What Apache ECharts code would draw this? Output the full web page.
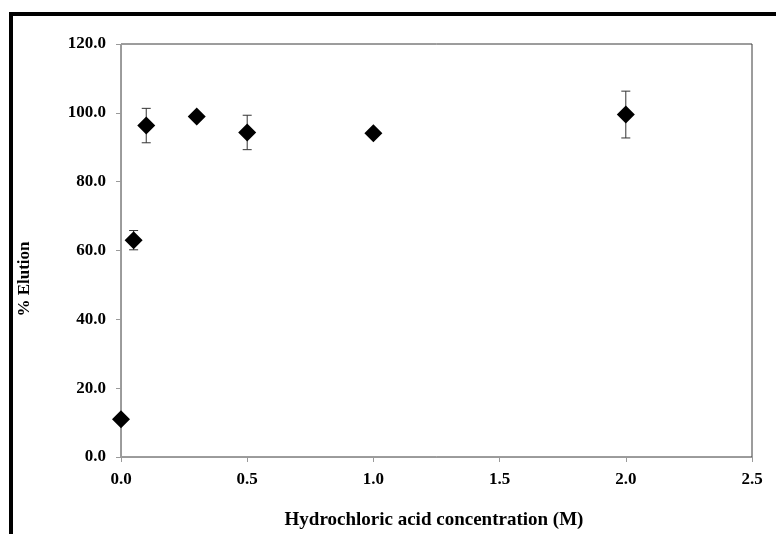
<!DOCTYPE html>
<html>
<head>
<meta charset="utf-8">
<script src="https://cdn.jsdelivr.net/npm/echarts@6/dist/echarts.min.js"></script>
<style>
  html, body { margin: 0; padding: 0; background: #ffffff; }
  #chart { width: 776px; height: 534px; }
</style>
</head>
<body>
<div id="chart"></div>
<script>
// Data
var concentrations = [0.0, 0.05, 0.1, 0.3, 0.5, 1.0, 2.0];   // Hydrochloric acid concentration (M)
var elution        = [11.0, 63.0, 96.3, 98.9, 94.3, 94.1, 99.5]; // % Elution
var errors         = [1.0, 2.8, 5.0, 1.0, 5.0, 1.0, 6.8];      // +/- error
var xTitle = 'Hydrochloric acid concentration (M)';
var yTitle = '% Elution';

var FONT = '"Liberation Serif", "Times New Roman", serif';

var points = concentrations.map(function (x, i) { return [x, elution[i]]; });
var errData = concentrations.map(function (x, i) {
  return [x, elution[i] - errors[i], elution[i] + errors[i]];
});

var chart = echarts.init(document.getElementById('chart'), null, { renderer: 'canvas' });

chart.setOption({
  backgroundColor: '#ffffff',
  animation: false,
  grid: {
    left: 121, top: 44, right: 24, bottom: 77,
    show: true, borderColor: '#3a3a3a', borderWidth: 1, backgroundColor: 'transparent'
  },
  xAxis: {
    type: 'value', min: 0, max: 2.5, interval: 0.5,
    axisLine: { show: true, onZero: false, lineStyle: { color: '#9a9a9a', width: 1 } },
    axisTick: { show: true, length: 5, inside: false, lineStyle: { color: '#9a9a9a' } },
    splitLine: { show: false },
    axisLabel: {
      margin: 14, color: '#000', fontFamily: FONT, fontWeight: 'bold', fontSize: 17,
      formatter: function (v) { return v.toFixed(1); }
    }
  },
  yAxis: {
    type: 'value', min: 0, max: 120, interval: 20,
    axisLine: { show: true, onZero: false, lineStyle: { color: '#9a9a9a', width: 1 } },
    axisTick: { show: true, length: 5, inside: false, lineStyle: { color: '#9a9a9a' } },
    splitLine: { show: false },
    axisLabel: {
      margin: 15, color: '#000', fontFamily: FONT, fontWeight: 'bold', fontSize: 17,
      formatter: function (v) { return v.toFixed(1); }
    }
  },
  series: [
    {
      type: 'custom',
      z: 2,
      data: errData,
      renderItem: function (params, api) {
        var x = api.value(0);
        var lo = api.coord([x, api.value(1)]);
        var hi = api.coord([x, api.value(2)]);
        var hw = 4.5;
        var style = { stroke: '#333333', lineWidth: 1, fill: null };
        return {
          type: 'group',
          children: [
            { type: 'line', shape: { x1: hi[0], y1: hi[1], x2: lo[0], y2: lo[1] }, style: style },
            { type: 'line', shape: { x1: hi[0] - hw, y1: hi[1], x2: hi[0] + hw, y2: hi[1] }, style: style },
            { type: 'line', shape: { x1: lo[0] - hw, y1: lo[1], x2: lo[0] + hw, y2: lo[1] }, style: style }
          ]
        };
      }
    },
    {
      type: 'scatter',
      z: 3,
      data: points,
      symbol: 'diamond',
      symbolSize: 18,
      itemStyle: { color: '#000000', opacity: 1 },
      emphasis: { disabled: true }
    }
  ],
  graphic: [
    { type: 'rect', shape: { x: 10, y: 12, width: 766, height: 4 }, style: { fill: '#000' } },
    { type: 'rect', shape: { x: 9, y: 12, width: 4, height: 522 }, style: { fill: '#000' } },
    {
      type: 'text', x: 434, y: 520,
      style: { text: xTitle, fill: '#000', font: 'bold 19px ' + FONT, textAlign: 'center', textVerticalAlign: 'middle' }
    },
    {
      type: 'text', x: 25, y: 279, rotation: Math.PI / 2,
      style: { text: yTitle, fill: '#000', font: 'bold 17px ' + FONT, textAlign: 'center', textVerticalAlign: 'middle' }
    }
  ]
});
</script>
</body>
</html>
